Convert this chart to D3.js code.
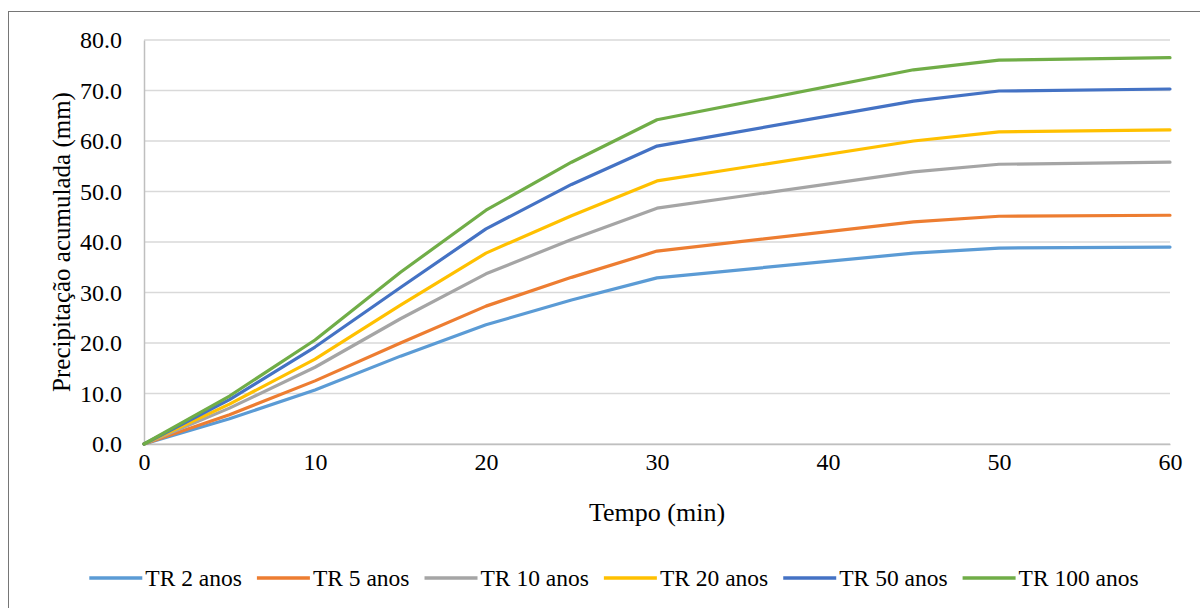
<!DOCTYPE html>
<html>
<head>
<meta charset="utf-8">
<script src="https://cdn.jsdelivr.net/npm/d3@7"></script>
<style>
  body { margin: 0; background: #fff; }
</style>
</head>
<body>
<div id="chart"></div>
<script>
var minutes = [0, 5, 10, 15, 20, 25, 30, 45, 50, 60];
var seriesNames = ["TR 2 anos", "TR 5 anos", "TR 10 anos", "TR 20 anos", "TR 50 anos", "TR 100 anos"];
var tr2 = [0, 5.0, 10.7, 17.4, 23.6, 28.5, 32.9, 37.8, 38.8, 39.0];
var tr5 = [0, 5.8, 12.5, 20.0, 27.3, 33.0, 38.2, 44.0, 45.1, 45.3];
var tr10 = [0, 7.1, 15.2, 24.8, 33.7, 40.5, 46.7, 53.9, 55.4, 55.8];
var tr20 = [0, 7.9, 16.8, 27.5, 37.8, 45.2, 52.1, 60.0, 61.8, 62.2];
var tr50 = [0, 8.8, 19.2, 31.0, 42.6, 51.4, 59.0, 67.9, 69.9, 70.3];
var tr100 = [0, 9.5, 20.6, 34.0, 46.3, 55.8, 64.2, 74.1, 76.0, 76.5];
var colors = ["#5b9bd5", "#ed7d31", "#a5a5a5", "#ffc000", "#4472c4", "#70ad47"];
var xTicks = [0, 10, 20, 30, 40, 50, 60];
var yTicks = [0, 10, 20, 30, 40, 50, 60, 70, 80];

var allSeries = [tr2, tr5, tr10, tr20, tr50, tr100];
var serif = "'Liberation Serif', 'Times New Roman', Times, 'DejaVu Serif', serif";

var width = 1200;
var height = 608;
var margin = { left: 144, right: 30, top: 40, bottom: 164 };

var svg = d3
  .select("#chart")
  .append("svg")
  .attr("width", width)
  .attr("height", height)
  .attr("font-family", serif);

// outer frame
svg.append("rect")
  .attr("x", 8.5).attr("y", 11.5)
  .attr("width", 1200).attr("height", 620)
  .attr("fill", "none")
  .attr("stroke", "#767676")
  .attr("stroke-width", 1);

var x = d3.scaleLinear().domain([0, 60]).range([margin.left, width - margin.right]);
var y = d3.scaleLinear().domain([0, 80]).range([height - margin.bottom, margin.top]);

// gridlines
svg.append("g")
  .selectAll("line")
  .data(yTicks)
  .enter()
  .append("line")
  .attr("x1", x(0)).attr("x2", x(60))
  .attr("y1", function (d) { return y(d); })
  .attr("y2", function (d) { return y(d); })
  .attr("stroke", "#d9d9d9")
  .attr("stroke-width", 1.5);

// axes
var xAxis = svg.append("g")
  .attr("transform", "translate(0," + y(0) + ")")
  .call(d3.axisBottom(x).tickValues(xTicks).tickSize(0).tickPadding(9));
xAxis.attr("font-family", serif);
xAxis.selectAll("text").style("font-size", "24px");
xAxis.select(".domain").attr("stroke", "#bfbfbf").attr("stroke-width", 1.5);

var yAxis = svg.append("g")
  .attr("transform", "translate(" + x(0) + ",0)")
  .call(d3.axisLeft(y).tickValues(yTicks).tickSize(0).tickPadding(22).tickFormat(d3.format(".1f")));
yAxis.attr("font-family", serif);
yAxis.selectAll("text").style("font-size", "24px");
yAxis.select(".domain").attr("stroke", "#bfbfbf").attr("stroke-width", 1.5);

// titles
svg.append("text")
  .attr("x", (x(0) + x(60)) / 2)
  .attr("y", 521)
  .attr("text-anchor", "middle")
  .style("font-size", "26px")
  .text("Tempo (min)");

svg.append("text")
  .attr("transform", "translate(70," + (y(40)) + ") rotate(-90)")
  .attr("text-anchor", "middle")
  .style("font-size", "25px")
  .text("Precipitação acumulada (mm)");

// lines
var line = d3.line()
  .x(function (d, i) { return x(minutes[i]); })
  .y(function (d) { return y(d); });

svg.append("g")
  .selectAll("path")
  .data(allSeries)
  .enter()
  .append("path")
  .attr("d", line)
  .attr("fill", "none")
  .attr("stroke", function (d, i) { return colors[i]; })
  .attr("stroke-width", 3.2)
  .attr("stroke-linejoin", "round")
  .attr("stroke-linecap", "round");

// legend
var legend = svg.append("g");
var item = legend.selectAll("g")
  .data(seriesNames)
  .enter()
  .append("g");

item.append("line")
  .attr("x1", 0).attr("x2", 53)
  .attr("stroke", function (d, i) { return colors[i]; })
  .attr("stroke-width", 3.5);

item.append("text")
  .attr("x", 56)
  .attr("dy", "0.35em")
  .style("font-size", "23.5px")
  .text(function (d) { return d; });

var gap = 15;
var pos = 0;
item.each(function () {
  var w = this.getBBox().width;
  d3.select(this).attr("transform", "translate(" + pos + ",0)");
  pos += w + gap;
});
var total = pos - gap;
legend.attr("transform", "translate(" + (614 - total / 2) + ",578)");
</script>
</body>
</html>
